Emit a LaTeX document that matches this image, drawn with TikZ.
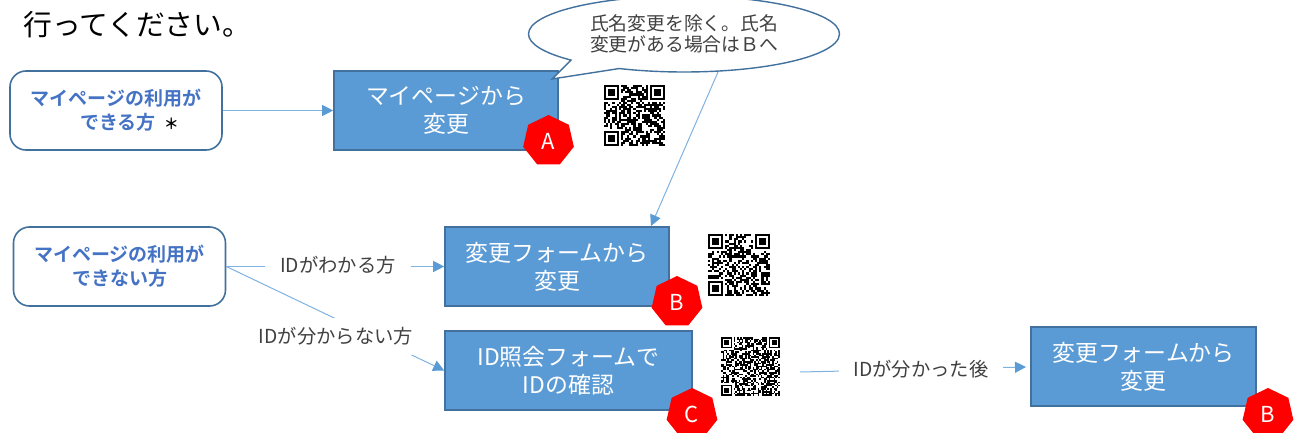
\documentclass[tikz,border=0pt]{standalone}
\usepackage{fontspec}
\setmainfont{Noto Sans CJK JP}[BoldFont={Noto Sans CJK JP Bold}]
\usetikzlibrary{shapes.geometric,shapes.callouts,arrows.meta}
\definecolor{boxfill}{HTML}{5B9BD5}
\definecolor{boxline}{HTML}{41719C}
\definecolor{connline}{HTML}{7FB2E0}
\definecolor{headblue}{HTML}{4472C4}
\definecolor{labeltext}{HTML}{404040}
\tikzset{
  flowbox/.style={draw=boxline,line width=1.6pt,fill=boxfill,text=white,align=center,inner sep=0pt,
    font=\fontsize{22.9}{28}\selectfont},
  startbox/.style={draw=boxline,line width=1.6pt,fill=white,rounded corners=16pt,text=headblue,align=center,inner sep=0pt,
    minimum width=212pt,minimum height=79pt,font=\fontsize{19}{24}\selectfont\bfseries},
  badge/.style={regular polygon,regular polygon sides=7,fill=red,text=white,inner sep=0pt,
    minimum size=52pt,font=\fontsize{22}{24}\selectfont},
  conn/.style={draw=connline,line width=1pt,-{Triangle[width=11pt,length=11pt,color=boxfill,fill=boxfill]}},
  edgelabel/.style={fill=white,text=labeltext,inner sep=0pt,font=\fontsize{19.3}{22}\selectfont},
}
\newcommand{\qrpattern}[5]{%
  \begin{scope}[shift={(#1,#2)}]
    \pgfmathsetmacro{\qrm}{#3/#4}
    \pgfmathtruncatemacro{\qrlast}{#4-1}
    \pgfmathtruncatemacro{\qrhi}{#4-7}
    \begin{scope}[x=\qrm pt,y=-\qrm pt]
      \pgfmathsetseed{#5}
      \foreach \qi in {0,...,\qrlast}{
        \foreach \qj in {0,...,\qrlast}{
          \pgfmathrandominteger{\qr}{0}{99}
          \pgfmathtruncatemacro{\qskip}{((\qi<8 && \qj<8) || (\qi>=\qrhi-1 && \qj<8) || (\qi<8 && \qj>=\qrhi-1)) ? 1 : 0}
          \ifnum\qskip=0
            \ifnum\qr<56
              \fill[black] (\qi,\qj) rectangle ++(1,1);
            \fi
          \fi
        }
      }
      \foreach \qa/\qb in {0/0,\qrhi/0,0/\qrhi}{
        \fill[black] (\qa,\qb) rectangle ++(7,7);
        \fill[white] (\qa+1,\qb+1) rectangle ++(5,5);
        \fill[black] (\qa+2,\qb+2) rectangle ++(3,3);
      }
    \end{scope}
  \end{scope}
}
\begin{document}
\begin{tikzpicture}[x=1pt,y=-1pt]
\useasboundingbox (0,0) rectangle (1298,433);
\clip (0,0) rectangle (1298,433);

\node[anchor=west,text=black,inner sep=0pt,font=\fontsize{28.8}{32}\selectfont] (title) at (23,25) {行ってください。};

\node[startbox] (startA) at (116,110.5) {マイページの利用が\\\hspace*{27pt}できる方\hspace{8pt}{\color{black}\fontsize{15}{24}\selectfont ＊}};
\node[startbox] (startB) at (119.5,266.5) {マイページの利用が\\できない方};

\node[flowbox,minimum width=224pt,minimum height=79pt] (boxA) at (446,110.5) {マイページから\\変更};
\node[flowbox,minimum width=224pt,minimum height=79pt] (boxB) at (557,266.5) {変更フォームから\\変更};
\node[flowbox,minimum width=247pt,minimum height=79pt] (boxC) at (568.5,370.5) {ID照会フォームで\\IDの確認};
\node[flowbox,minimum width=225pt,minimum height=79pt] (boxD) at (1143.5,366.5) {変更フォームから\\変更};

\node[ellipse callout,draw=boxline,line width=1.4pt,fill=white,text=labeltext,align=center,inner sep=0pt,
  minimum width=311pt,minimum height=76pt,callout absolute pointer={(552,79)},callout pointer arc=22,
  font=\fontsize{18.8}{21}\selectfont] (note) at (684,34) {氏名変更を除く。氏名\\変更がある場合はＢへ};

\qrpattern{604}{85}{61}{29}{11}
\qrpattern{708}{234}{62}{29}{27}
\qrpattern{721}{337}{59}{37}{53}

\coordinate (noteFoot) at (718,72);
\coordinate (boxBTop) at (651,226);
\coordinate (qrThreeOut) at (800,372);
\coordinate (boxDIn) at (1026,367);

\draw[conn] (startA.east) -- (boxA.west);
\draw[conn] (noteFoot) -- (boxBTop);
\draw[conn] (startB.east) -- (boxB.west);
\draw[conn] (startB.east) -- (boxC.west);
\draw[conn] (qrThreeOut) -- (boxDIn);

\node[edgelabel,minimum width=146pt,minimum height=30pt] (labKnown) at (338,265) {IDがわかる方};
\node[edgelabel,minimum width=154pt,minimum height=37pt] (labUnknown) at (336,336.5) {IDが分からない方};
\node[edgelabel,minimum width=164pt,minimum height=30pt] (labAfter) at (921,369) {IDが分かった後};

\node[badge] (badgeA) at (548.5,141) {A};
\node[badge] (badgeB) at (677,302) {B};
\node[badge] (badgeC) at (692,414) {C};
\node[badge] (badgeD) at (1268,414) {B};
\end{tikzpicture}
\end{document}
